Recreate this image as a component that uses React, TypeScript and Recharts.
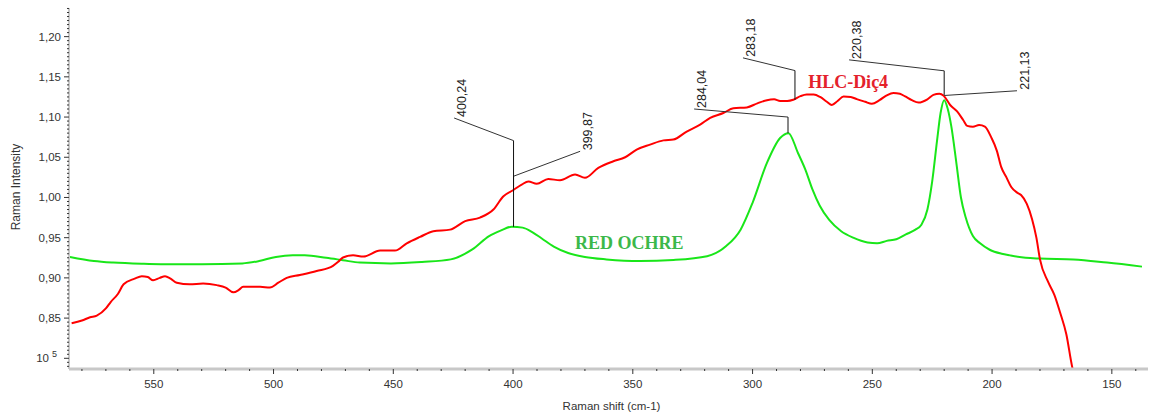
import React from 'react';
import { LineChart, Line, XAxis, YAxis, ReferenceLine, ReferenceDot } from 'recharts';

// RED OCHRE spectrum (green)
const ochreShift = [585, 575, 567, 555, 547, 530, 513, 506, 499, 492, 487, 478, 471, 464, 451, 438, 426, 417, 410, 405, 400.5, 396, 392, 388, 383, 377, 370, 361, 347, 333, 319, 311, 305, 300, 294, 288.5, 285, 281, 278, 275, 272, 268, 263, 258, 252, 248, 244, 240, 236, 232, 229.5, 227, 225, 223, 221.5, 220, 218.5, 217, 215, 213, 211, 208, 205, 201, 196, 192.5, 186, 180, 166, 152, 137.4];
const ochreIntensity = [0.926, 0.921, 0.919, 0.9175, 0.917, 0.917, 0.918, 0.921, 0.926, 0.928, 0.928, 0.925, 0.922, 0.919, 0.918, 0.9198, 0.923, 0.9355, 0.952, 0.959, 0.9637, 0.9625, 0.957, 0.949, 0.939, 0.931, 0.926, 0.923, 0.921, 0.9223, 0.927, 0.9396, 0.96, 0.9934, 1.043, 1.074, 1.08, 1.055, 1.035, 1.01, 0.99, 0.972, 0.958, 0.95, 0.944, 0.943, 0.946, 0.948, 0.954, 0.96, 0.966, 0.985, 1.02, 1.07, 1.105, 1.121, 1.11, 1.088, 1.045, 1.0, 0.975, 0.952, 0.943, 0.935, 0.93, 0.928, 0.925, 0.924, 0.923, 0.919, 0.914];

// HLC-Diç4 spectrum (red)
const hlcShift = [584.3, 580, 576.6, 573.8, 570, 568, 565, 562.6, 558, 555, 552.5, 550.3, 547.5, 545.3, 543, 540.4, 535, 529.4, 523.7, 520, 516.8, 514.5, 512.7, 505.6, 501.5, 498, 494.5, 489, 482, 475.2, 473, 471, 466.8, 462.5, 455.5, 449.3, 444.4, 438.8, 433.3, 426.3, 420, 413.8, 408.2, 404, 400, 396.4, 393.6, 390.1, 385.3, 380.4, 374.1, 370, 364.4, 358.1, 353.2, 348.4, 342.8, 337.2, 333.1, 327.5, 321.9, 317.7, 312.2, 308, 302.4, 298, 294, 291, 288.5, 285.5, 283, 280, 277.4, 274.5, 271.8, 269, 266.9, 264.5, 262, 259, 256.5, 253, 250.2, 247, 244, 241.2, 238.5, 236.3, 233.5, 230.7, 227, 224.5, 222, 220.2, 217.5, 214.6, 212, 210.4, 208, 205.4, 203, 200.4, 198, 196.2, 194, 192, 189.5, 187.9, 185.5, 183.3, 181.5, 180, 176.6, 174, 171.6, 169, 166.6, 165.8];
const hlcIntensity = [0.8435, 0.847, 0.851, 0.853, 0.862, 0.87, 0.88, 0.892, 0.899, 0.902, 0.901, 0.897, 0.9, 0.902, 0.899, 0.894, 0.892, 0.893, 0.891, 0.888, 0.882, 0.885, 0.889, 0.889, 0.888, 0.894, 0.9, 0.9035, 0.9085, 0.915, 0.92, 0.9254, 0.928, 0.9265, 0.934, 0.934, 0.943, 0.951, 0.958, 0.96, 0.9706, 0.975, 0.985, 1.0016, 1.009, 1.016, 1.02, 1.017, 1.023, 1.0214, 1.0285, 1.0244, 1.0368, 1.045, 1.05, 1.0595, 1.0657, 1.071, 1.072, 1.082, 1.0905, 1.099, 1.105, 1.111, 1.112, 1.117, 1.121, 1.122, 1.12, 1.12, 1.1215, 1.126, 1.128, 1.128, 1.125, 1.119, 1.115, 1.12, 1.1256, 1.125, 1.1223, 1.119, 1.1165, 1.121, 1.127, 1.13, 1.129, 1.1256, 1.121, 1.118, 1.122, 1.1275, 1.129, 1.1264, 1.115, 1.107, 1.096, 1.089, 1.088, 1.09, 1.088, 1.075, 1.058, 1.038, 1.025, 1.013, 1.006, 1.003, 0.992, 0.973, 0.95, 0.923, 0.895, 0.879, 0.857, 0.83, 0.79, 0.78];

// Axes
const xMajorTicks = [550, 500, 450, 400, 350, 300, 250, 200, 150];
const xTickLabels = ['550', '500', '450', '400', '350', '300', '250', '200', '150'];
const yMajorTicks = [0.8, 0.85, 0.9, 0.95, 1.0, 1.05, 1.1, 1.15, 1.2];
const yTickLabels = ['10 5', '0,85', '0,90', '0,95', '1,00', '1,05', '1,10', '1,15', '1,20'];
const xDomain = [134.9, 585.4];
const yDomain = [0.7867, 1.2356];

// Peak annotations (data coordinates)
const peakLabels = ['400,24', '399,87', '284,04', '283,18', '220,38', '221,13'];
const peakLabelShift = [424.6, 372.0, 324.4, 304.0, 259.7, 189.6];
const peakLabelIntensity = [1.0988, 1.0574, 1.11, 1.1736, 1.1711, 1.1327];
const peakKneeShift = [399.8, 399.8, 285.2, 282.3, 220.0, 220.0];
const peakKneeIntensity = [1.0707, 1.0264, 1.1, 1.1578, 1.1575, 1.1268];
const peakTipIntensity = [0.9635, 1.0124, 1.08, 1.1215, 1.1275, null];

// Series names drawn in the plot
const seriesNames = ['HLC-Diç4', 'RED OCHRE'];
const seriesNameShift = [276.8, 374.1];
const seriesNameIntensity = [1.1364, 0.9364];
const seriesTextColors = ['#e4212b', '#3cb84a'];

const ochreData = ochreShift.map((x, i) => ({ x, y: ochreIntensity[i] }));
const hlcData = hlcShift.map((x, i) => ({ x, y: hlcIntensity[i] }));

const xAllTicks: number[] = [];
for (let v = 140; v <= 580; v += 10) xAllTicks.push(v);
const yAllTicks: number[] = [];
for (let i = 158; i <= 247; i++) yAllTicks.push(Math.round(i * 5) / 1000);

const TICK_FONT = 'Liberation Sans, Arial, sans-serif';

const XTick = (props: any) => {
  const { x, y, payload } = props;
  const idx = xMajorTicks.findIndex((t) => Math.abs(t - payload.value) < 1e-6);
  if (idx < 0) {
    return <line x1={x} x2={x} y1={y} y2={y + 2} stroke="#333" strokeWidth={1} />;
  }
  return (
    <g>
      <line x1={x} x2={x} y1={y} y2={y + 5} stroke="#333" strokeWidth={1} />
      <text x={x} y={y + 19} textAnchor="middle" fontSize={11.5} fontFamily={TICK_FONT} fill="#333">
        {xTickLabels[idx]}
      </text>
    </g>
  );
};

const YTick = (props: any) => {
  const { x, y, payload } = props;
  const idx = yMajorTicks.findIndex((t) => Math.abs(t - payload.value) < 1e-6);
  if (idx < 0) {
    return <line x1={x - 2} x2={x} y1={y} y2={y} stroke="#333" strokeWidth={1} />;
  }
  const label = yTickLabels[idx];
  const parts = label.split(' ');
  return (
    <g>
      <line x1={x - 5} x2={x} y1={y} y2={y} stroke="#333" strokeWidth={1} />
      {parts.length > 1 ? (
        <text x={x - 12} y={y + 4} textAnchor="end" fontSize={11.5} fontFamily={TICK_FONT} fill="#333">
          {parts[0]}
          <tspan dx={3} dy={-5} fontSize={9}>{parts[1]}</tspan>
        </text>
      ) : (
        <text x={x - 8} y={y + 4} textAnchor="end" fontSize={11.5} fontFamily={TICK_FONT} fill="#333">
          {label}
        </text>
      )}
    </g>
  );
};

const getPoint = (p: any) => {
  const vb = p.viewBox || {};
  const x = vb.x !== undefined ? vb.x + (vb.width || 0) / 2 : p.x;
  const y = vb.y !== undefined ? vb.y + (vb.height || 0) / 2 : p.y;
  return { x, y };
};

const peakLabelRenderer = (text: string) => (p: any) => {
  const { x, y } = getPoint(p);
  const bx = x + 12;
  const by = y - 1;
  return (
    <text
      x={bx}
      y={by}
      transform={`rotate(-90 ${bx} ${by})`}
      fontSize={12.5}
      fontFamily={TICK_FONT}
      fill="#222"
      textAnchor="start"
    >
      {text}
    </text>
  );
};

const nameLabelRenderer = (text: string, color: string) => (p: any) => {
  const { x, y } = getPoint(p);
  return (
    <text x={x} y={y} fontSize={18} fontWeight="bold" fontFamily="Liberation Serif, Times New Roman, serif" fill={color}>
      {text}
    </text>
  );
};

export default function App() {
  return (
    <div style={{ position: 'absolute', left: 0, top: 0, width: 1150, height: 414, background: '#fff' }}>
      <LineChart width={1150} height={414} margin={{ top: 8, right: 2, bottom: 0, left: 9 }}>
        <XAxis
          type="number"
          dataKey="x"
          domain={xDomain}
          reversed
          allowDataOverflow
          ticks={xAllTicks}
          interval={0}
          tickSize={0}
          tickMargin={0}
          tickLine={false}
          tick={XTick}
          height={45}
          axisLine={{ stroke: '#c8c8c8', strokeWidth: 3 }}
          label={{
            content: (p: any) => {
              const vb = p.viewBox;
              return (
                <text x={vb.x + vb.width / 2 + 3} y={vb.y + 41} textAnchor="middle" fontSize={11.5} fontFamily={TICK_FONT} fill="#333">
                  Raman shift (cm-1)
                </text>
              );
            },
          }}
        />
        <YAxis
          type="number"
          dataKey="y"
          domain={yDomain}
          allowDataOverflow
          ticks={yAllTicks}
          interval={0}
          tickSize={0}
          tickMargin={0}
          tickLine={false}
          tick={YTick}
          width={60}
          axisLine={{ stroke: '#c8c8c8', strokeWidth: 2 }}
          label={{
            content: (p: any) => {
              const vb = p.viewBox;
              const cx = vb.x + 11;
              const cy = 187;
              return (
                <text x={cx} y={cy} transform={`rotate(-90 ${cx} ${cy})`} textAnchor="middle" fontSize={12} fontFamily={TICK_FONT} fill="#333">
                  Raman Intensity
                </text>
              );
            },
          }}
        />
        <Line
          data={ochreData}
          dataKey="y"
          type="monotone"
          stroke="#19e619"
          strokeWidth={2}
          dot={false}
          activeDot={false}
          isAnimationActive={false}
        />
        <Line
          data={hlcData}
          dataKey="y"
          type="monotone"
          stroke="#ff0000"
          strokeWidth={2}
          dot={false}
          activeDot={false}
          isAnimationActive={false}
        />
        {peakLabels.map((lbl, i) => (
          <ReferenceLine
            key={`a${i}`}
            segment={[
              { x: peakLabelShift[i], y: peakLabelIntensity[i] },
              { x: peakKneeShift[i], y: peakKneeIntensity[i] },
            ]}
            stroke="#333"
            strokeWidth={1}
            ifOverflow="visible"
          />
        ))}
        {peakLabels.map((lbl, i) =>
          peakTipIntensity[i] === null ? null : (
            <ReferenceLine
              key={`b${i}`}
              segment={[
                { x: peakKneeShift[i], y: peakKneeIntensity[i] },
                { x: peakKneeShift[i], y: peakTipIntensity[i] as number },
              ]}
              stroke="#111"
              strokeWidth={1}
              ifOverflow="visible"
            />
          )
        )}
        {peakLabels.map((lbl, i) => (
          <ReferenceDot
            key={`c${i}`}
            x={peakLabelShift[i]}
            y={peakLabelIntensity[i]}
            r={0}
            fill="none"
            stroke="none"
            ifOverflow="visible"
            label={peakLabelRenderer(lbl)}
          />
        ))}
        {seriesNames.map((n, i) => (
          <ReferenceDot
            key={`n${i}`}
            x={seriesNameShift[i]}
            y={seriesNameIntensity[i]}
            r={0}
            fill="none"
            stroke="none"
            ifOverflow="visible"
            label={nameLabelRenderer(n, seriesTextColors[i])}
          />
        ))}
      </LineChart>
    </div>
  );
}
